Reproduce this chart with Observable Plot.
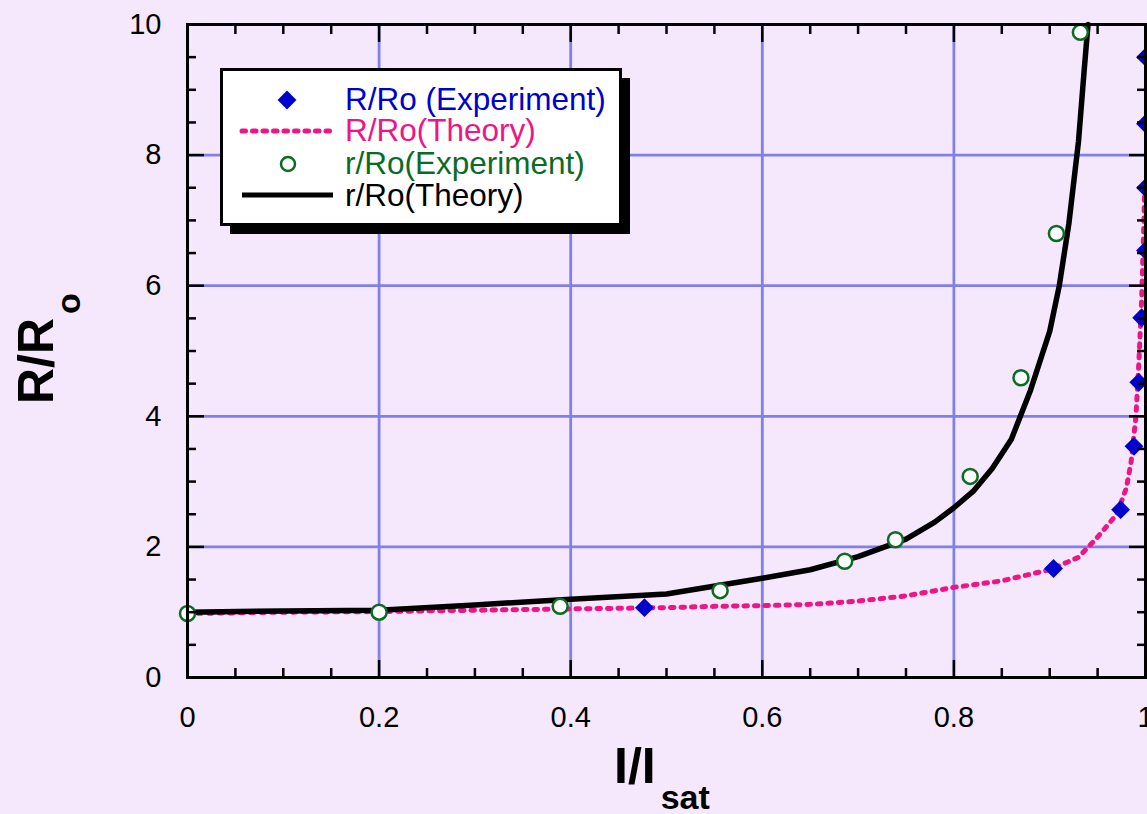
<!DOCTYPE html>
<html><head><meta charset="utf-8">
<script src="https://cdn.jsdelivr.net/npm/d3@7"></script>
<script src="https://cdn.jsdelivr.net/npm/@observablehq/plot@0.6"></script>
<style>
html,body{margin:0;padding:0;background:#f5e8fc;}
#chart{position:relative;width:1147px;height:814px;overflow:hidden}
</style></head><body><div id="chart"></div>
<script>
// R/Ro (Experiment) — blue diamonds
const expRx = [0.477, 0.904, 0.974, 0.988, 0.993, 0.996, 1.0, 1.0, 1.0, 1.0];
const expRy = [1.07, 1.67, 2.57, 3.54, 4.52, 5.51, 6.54, 7.50, 8.48, 9.50];
// R/Ro (Theory) — pink dotted
const thRx = [0, 0.1, 0.2, 0.3, 0.4, 0.5, 0.55, 0.6, 0.65, 0.7, 0.75, 0.8, 0.85, 0.9, 0.93, 0.95, 0.97, 0.98, 0.985, 0.99, 0.993, 0.996, 0.998, 0.999];
const thRy = [0.98, 1.0, 1.01, 1.03, 1.05, 1.07, 1.09, 1.10, 1.12, 1.17, 1.25, 1.38, 1.48, 1.65, 1.84, 2.15, 2.5, 2.9, 3.3, 4.0, 4.8, 5.8, 6.8, 7.4];
// r/Ro (Experiment) — green open circles
const exprx = [0, 0.2, 0.389, 0.556, 0.686, 0.739, 0.817, 0.870, 0.907, 0.932];
const expry = [0.98, 1.0, 1.09, 1.33, 1.78, 2.11, 3.08, 4.59, 6.80, 9.88];
// r/Ro (Theory) — black line
const thrx = [0, 0.1, 0.2, 0.3, 0.4, 0.5, 0.6, 0.65, 0.7, 0.75, 0.78, 0.8, 0.82, 0.84, 0.86, 0.88, 0.9, 0.91, 0.92, 0.93, 0.936, 0.94];
const thry = [1.0, 1.02, 1.03, 1.11, 1.2, 1.28, 1.52, 1.65, 1.85, 2.12, 2.38, 2.6, 2.85, 3.2, 3.65, 4.4, 5.3, 6.0, 6.95, 8.2, 9.3, 10.0];

const xMajor = [0, 0.2, 0.4, 0.6, 0.8, 1];
const xMinor = [0.05,0.1,0.15,0.25,0.3,0.35,0.45,0.5,0.55,0.65,0.7,0.75,0.85,0.9,0.95];
const yMajor = [0, 2, 4, 6, 8, 10];
const yMinor = [0.5,1,1.5,2.5,3,3.5,4.5,5,5.5,6.5,7,7.5,8.5,9,9.5];
const xTickLabels = ["0", "0.2", "0.4", "0.6", "0.8", "1"];
const yTickLabels = ["0", "2", "4", "6", "8", "10"];

const legendItems = ["R/Ro (Experiment)", "R/Ro(Theory)", "r/Ro(Experiment)", "r/Ro(Theory)"];

const zip = (xs, ys) => xs.map((x, i) => ({x, y: ys[i]}));
const dR = zip(expRx, expRy), tR = zip(thRx, thRy), dr = zip(exprx, expry), tr = zip(thrx, thry);

const BLUE = "#0000cc", PINK = "#ee1587", GREEN = "#0b6b24", GRID = "#8080e8";
const FONT = "'Liberation Sans', Arial, Helvetica, sans-serif";

const tickOpts = {strokeWidth: 2.5, tickFormat: () => "", label: null};
const plot = Plot.plot({
  width: 1147, height: 814,
  marginLeft: 187, marginRight: 2, marginTop: 24, marginBottom: 137,
  style: {background: "#f5e8fc", fontFamily: FONT, fontSize: "29px", color: "black", overflow: "hidden"},
  x: {domain: [0, 1]},
  y: {domain: [0, 10]},
  marks: [
    Plot.gridX(xMajor, {stroke: GRID, strokeOpacity: 1, strokeWidth: 2.8}),
    Plot.gridY(yMajor, {stroke: GRID, strokeOpacity: 1, strokeWidth: 2.8}),
    Plot.line(tR, {x: "x", y: "y", stroke: PINK, strokeWidth: 5, strokeDasharray: "3.5,7", strokeLinecap: "round", curve: "linear"}),
    Plot.line(tr, {x: "x", y: "y", stroke: "black", strokeWidth: 5.5, strokeLinejoin: "round"}),
    Plot.dot(dr, {x: "x", y: "y", r: 7.5, fill: "white", stroke: GREEN, strokeWidth: 2.5}),
    Plot.dot(dR, {x: "x", y: "y", symbol: "diamond2", r: 8.5, fill: BLUE, stroke: "none"}),
    Plot.frame({stroke: "black", strokeWidth: 3}),
    Plot.axisX(xMinor, {anchor: "bottom", tickSize: -9, ...tickOpts}),
    Plot.axisX(xMajor, {anchor: "bottom", tickSize: -17, ...tickOpts}),
    Plot.axisX(xMinor, {anchor: "top", tickSize: -9, ...tickOpts}),
    Plot.axisX(xMajor, {anchor: "top", tickSize: -17, ...tickOpts}),
    Plot.axisY(yMinor, {anchor: "left", tickSize: -9, ...tickOpts}),
    Plot.axisY(yMajor, {anchor: "left", tickSize: -17, ...tickOpts}),
    Plot.axisY(yMinor, {anchor: "right", tickSize: -9, ...tickOpts}),
    Plot.axisY(yMajor, {anchor: "right", tickSize: -17, ...tickOpts}),
    Plot.axisX(xMajor, {anchor: "bottom", tickSize: 0, tickPadding: 29, fontSize: 29, tickFormat: (d, i) => xTickLabels[i], label: null}),
    Plot.axisY(yMajor, {anchor: "left", tickSize: 0, tickPadding: 26, fontSize: 29, tickFormat: (d, i) => yTickLabels[i], label: null})
  ]
});
document.getElementById("chart").appendChild(plot);

const svg = d3.select(plot);
// Legend
const g = svg.append("g").attr("font-family", FONT).attr("font-size", 31.5).attr("text-anchor", "start");
g.append("rect").attr("x", 230).attr("y", 78).attr("width", 400).attr("height", 156).attr("fill", "black");
g.append("rect").attr("x", 221.5).attr("y", 69.5).attr("width", 399).attr("height", 155)
  .attr("fill", "white").attr("stroke", "black").attr("stroke-width", 3);
g.append("path").attr("d", d3.symbol(d3.symbolDiamond2, Math.PI * 8.5 * 8.5)()).attr("transform", "translate(287,100)").attr("fill", BLUE);
g.append("line").attr("x1", 242).attr("x2", 330).attr("y1", 131).attr("y2", 131)
  .attr("stroke", PINK).attr("stroke-width", 5).attr("stroke-dasharray", "3.5,7").attr("stroke-linecap", "round");
g.append("circle").attr("cx", 288).attr("cy", 164).attr("r", 7).attr("fill", "white").attr("stroke", GREEN).attr("stroke-width", 2.5);
g.append("line").attr("x1", 242).attr("x2", 333).attr("y1", 195).attr("y2", 195).attr("stroke", "black").attr("stroke-width", 5);
const cols = [BLUE, PINK, GREEN, "black"];
const bases = [110, 141, 174, 206];
legendItems.forEach((t, i) => {
  g.append("text").attr("x", 345).attr("y", bases[i]).attr("fill", cols[i]).attr("text-anchor", "start").text(t);
});

// Axis titles
const xt = svg.append("text").attr("x", 614).attr("y", 783).attr("text-anchor", "start").attr("font-family", FONT).attr("font-weight", "bold").attr("fill", "black");
xt.append("tspan").attr("font-size", 50).text("I/I");
xt.append("tspan").attr("font-size", 34).attr("dy", 26).attr("dx", 5).text("sat");

const yt = svg.append("text").attr("transform", "translate(53,404) rotate(-90)").attr("text-anchor", "start").attr("font-family", FONT).attr("font-weight", "bold").attr("fill", "black");
yt.append("tspan").attr("font-size", 50).text("R/R");
yt.append("tspan").attr("font-size", 34).attr("dy", 27).attr("dx", 4).text("o");
</script>
</body></html>
